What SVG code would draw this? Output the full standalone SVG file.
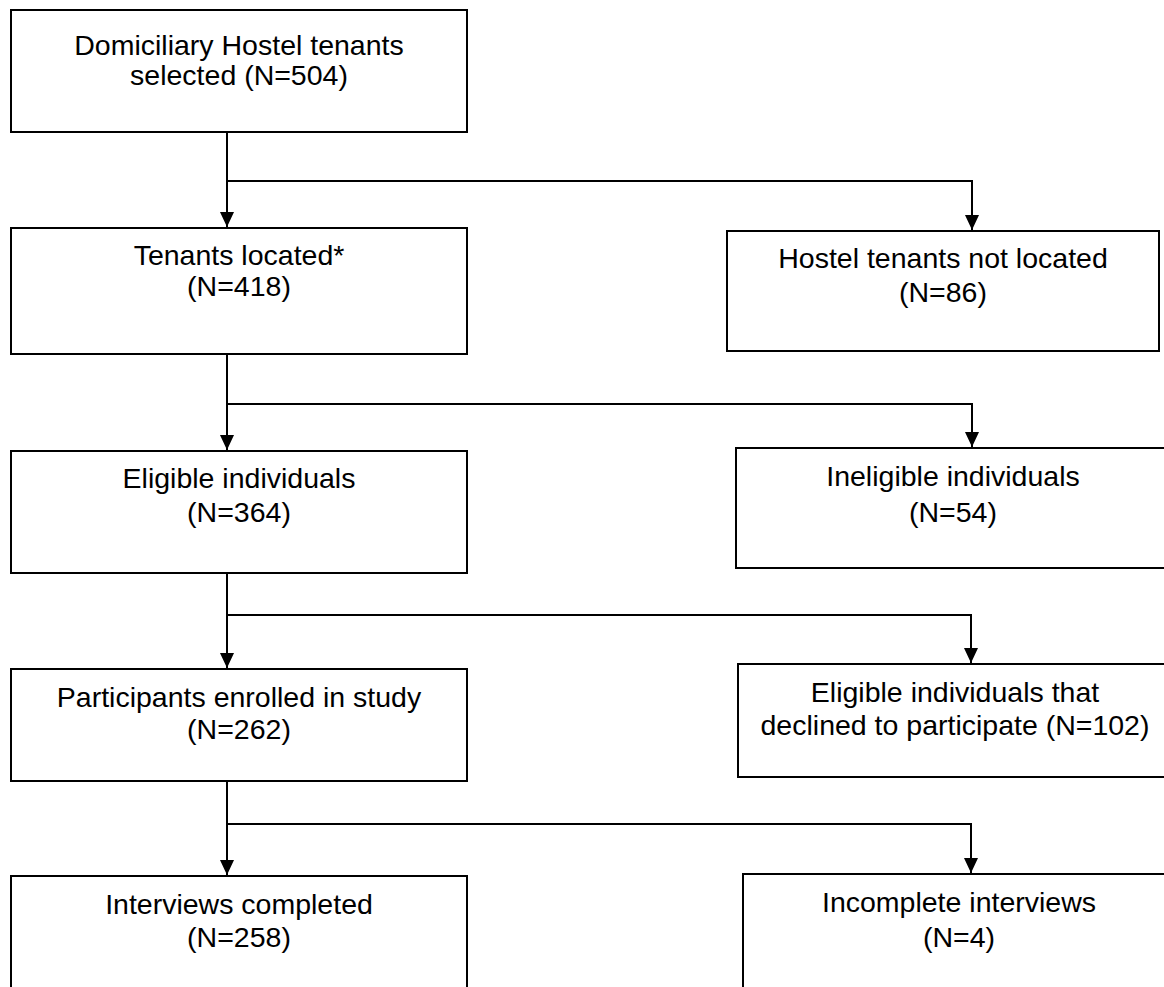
<svg xmlns="http://www.w3.org/2000/svg" width="1164" height="987" viewBox="0 0 1164 987">
<style>
.box{fill:#fff;stroke:#000;stroke-width:2}
.t{font-family:"Liberation Sans",Arial,sans-serif;font-size:28.5px;fill:#000;text-anchor:middle}
.ln{fill:none;stroke:#000;stroke-width:2}
</style>
<defs>
<marker id="ah" viewBox="0 0 15 14" refX="15" refY="7" markerWidth="15" markerHeight="14" markerUnits="userSpaceOnUse" orient="auto">
<path d="M0,0 L15,7 L0,14 Z" fill="#000"/>
</marker>
</defs>
<rect width="1164" height="987" fill="#fff"/>
<g id="connectors">
<path class="ln" d="M227,132 V227" marker-end="url(#ah)"/>
<path class="ln" d="M227,181 H972 V230" marker-end="url(#ah)"/>
<path class="ln" d="M227,354 V450" marker-end="url(#ah)"/>
<path class="ln" d="M227,404 H972 V447" marker-end="url(#ah)"/>
<path class="ln" d="M227,573 V668" marker-end="url(#ah)"/>
<path class="ln" d="M227,615 H971 V663" marker-end="url(#ah)"/>
<path class="ln" d="M227,781 V875" marker-end="url(#ah)"/>
<path class="ln" d="M227,824 H971 V873" marker-end="url(#ah)"/>
</g>
<g id="n1"><rect class="box" x="11" y="10" width="456" height="122"/><text class="t" x="239" y="55">Domiciliary Hostel tenants</text><text class="t" x="239" y="85">selected (N=504)</text></g>
<g id="n2"><rect class="box" x="11" y="228" width="456" height="126"/><text class="t" x="239" y="265">Tenants located*</text><text class="t" x="239" y="296">(N=418)</text></g>
<g id="n3"><rect class="box" x="727" y="231" width="432" height="120"/><text class="t" x="943" y="268">Hostel tenants not located</text><text class="t" x="943" y="302">(N=86)</text></g>
<g id="n4"><rect class="box" x="11" y="451" width="456" height="122"/><text class="t" x="239" y="488">Eligible individuals</text><text class="t" x="239" y="522">(N=364)</text></g>
<g id="n5"><rect class="box" x="736" y="448" width="440" height="120"/><text class="t" x="953" y="486">Ineligible individuals</text><text class="t" x="953" y="522">(N=54)</text></g>
<g id="n6"><rect class="box" x="11" y="669" width="456" height="112"/><text class="t" x="239" y="707">Participants enrolled in study</text><text class="t" x="239" y="739">(N=262)</text></g>
<g id="n7"><rect class="box" x="738" y="664" width="440" height="113"/><text class="t" x="955" y="702">Eligible individuals that</text><text class="t" x="955" y="735">declined to participate (N=102)</text></g>
<g id="n8"><rect class="box" x="11" y="876" width="456" height="130"/><text class="t" x="239" y="914">Interviews completed</text><text class="t" x="239" y="947">(N=258)</text></g>
<g id="n9"><rect class="box" x="743" y="874" width="440" height="130"/><text class="t" x="959" y="912">Incomplete interviews</text><text class="t" x="959" y="947">(N=4)</text></g>
</svg>
